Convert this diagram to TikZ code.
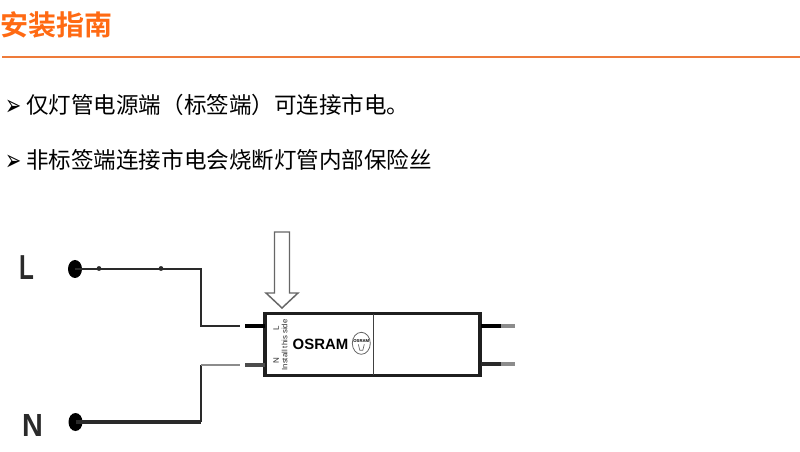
\documentclass[tikz,border=0pt]{standalone}
\usepackage{fontspec}
\setmainfont{Liberation Sans}
\newfontfamily\cjk{Noto Sans CJK SC}
\newfontfamily\cjkb{Noto Sans CJK SC Bold}
\newfontfamily\djv{DejaVu Sans}
\usetikzlibrary{shapes.geometric}
\definecolor{orangeT}{HTML}{FF6A13}
\definecolor{orangeL}{HTML}{EE7B3A}
\definecolor{inkW}{HTML}{2A2A2A}
\tikzset{
  x=0.75pt,y=-0.75pt,
  txt/.style={inner sep=0pt,anchor=west,text=black},
  body/.style={txt,font=\cjk\fontsize{16.9pt}{18pt}\selectfont},
  bullet/.style={txt,font=\djv\fontsize{14.5pt}{16pt}\selectfont,yscale=1.5},
  pole/.style={inner sep=0pt,font=\bfseries,text=inkW},
  termdot/.style={ellipse,fill=black,inner sep=0pt,minimum width=10.5pt,minimum height=13.5pt},
  joint/.style={circle,fill=inkW,inner sep=0pt,minimum size=3.6pt},
  wire/.style={draw=inkW,line width=1.8pt,line join=miter},
  heavy/.style={draw=inkW,line width=3pt},
  pinL/.style={draw=black,line width=3pt},
  pinS/.style={draw=inkW,line width=2.4pt},
  stub/.style={draw=black!45,line width=2.6pt},
  tube/.style={draw=black!88,line width=2.8pt,minimum width=161pt,minimum height=46.5pt,inner sep=0pt},
  tiny/.style={inner sep=0pt,rotate=90,text=inkW}
}
\begin{document}
\begin{tikzpicture}
\useasboundingbox (0,0) rectangle (800,452);
\node[txt,text=orangeT,font=\cjkb\fontsize{21pt}{24pt}\selectfont] (title) at (0,25) {安装指南};
\coordinate (ruleA) at (2,57); \coordinate (ruleB) at (800,57);
\draw[orangeL,line width=1.1pt] (ruleA) -- (ruleB);
\node[bullet] (b1) at (5,108) {➢};
\node[body] (t1) at (26,105) {仅灯管电源端（标签端）可连接市电。};
\node[bullet] (b2) at (5,163) {➢};
\node[body] (t2) at (26,160) {非标签端连接市电会烧断灯管内部保险丝};

\node[pole,xscale=.7] (L) at (27,268) {\fontsize{26pt}{28pt}\selectfont L};
\node[pole,xscale=.9] (N) at (32.5,425) {\fontsize{24pt}{26pt}\selectfont N};
\node[termdot] (dL) at (75,269) {};
\node[termdot] (dN) at (75.5,422) {};
\node[joint] (j1) at (99,268.5) {};
\node[joint] (j2) at (161,268.5) {};

\node[tube] (tb) at (372.5,344.5) {};
\coordinate (div1) at (373.5,314); \coordinate (div2) at (373.5,375);
\draw[draw=black!75,line width=1pt] (div1) -- (div2);

\coordinate (lA) at (201,269); \coordinate (lB) at (201,326); \coordinate (lC) at (240,326);
\coordinate (lD) at (245,326); \coordinate (lE) at (265,326);
\draw[wire] (dL.center) -- (lA) -- (lB) -- (lC);
\draw[pinL] (lD) -- (lE);
\coordinate (nA) at (201,422); \coordinate (nB) at (201,365); \coordinate (nC) at (240,365);
\coordinate (nD) at (245,365); \coordinate (nE) at (265,365);
\draw[heavy] (dN.center) -- (nA);
\draw[wire] (nA) -- (nB);
\draw[draw=black!45,line width=1.6pt] (nB) -- (nC);
\draw[draw=black!70,line width=3.2pt] (nD) -- (nE);

\coordinate (rA) at (481,326); \coordinate (rB) at (501,326); \coordinate (rC) at (515,326);
\coordinate (sA) at (481,364); \coordinate (sB) at (501,364); \coordinate (sC) at (515,364);
\draw[stub] (rB) -- (rC);
\draw[stub] (sB) -- (sC);
\draw[pinL] (rA) -- (rB);
\draw[pinS] (sA) -- (sB);

\coordinate (a1) at (274.5,232); \coordinate (a2) at (289.5,232); \coordinate (a3) at (289.5,293);
\coordinate (a4) at (298,293); \coordinate (a5) at (282,308); \coordinate (a6) at (266,293); \coordinate (a7) at (274.5,293);
\draw[draw=black!60,line width=1.1pt,fill=white] (a1) -- (a2) -- (a3) -- (a4) -- (a5) -- (a6) -- (a7) -- cycle;

\node[tiny,font=\fontsize{6pt}{7pt}\selectfont] (tL) at (276,328) {L};
\node[tiny,font=\fontsize{6pt}{7pt}\selectfont] (tN) at (276,361) {N};
\node[tiny,font=\fontsize{5.8pt}{7pt}\selectfont] (inst) at (284.5,345) {Install this side};
\node[inner sep=0pt,font=\bfseries\fontsize{11.2pt}{12pt}\selectfont,text=black] (osram) at (320.5,344) {OSRAM};
\node[ellipse,draw=black!60,line width=0.6pt,inner sep=0pt,minimum width=13.5pt,minimum height=16.5pt] (logo) at (361.3,343.3) {};
\node[inner sep=0pt,font=\bfseries\fontsize{3.2pt}{4pt}\selectfont] (lt) at (361.3,341.5) {OSRAM};
\draw[black!60,line width=0.5pt] (logo.center) ++(-3,1) -- ++(1.5,6) -- ++(3,0) -- ++(1.5,-6);
\end{tikzpicture}
\end{document}
